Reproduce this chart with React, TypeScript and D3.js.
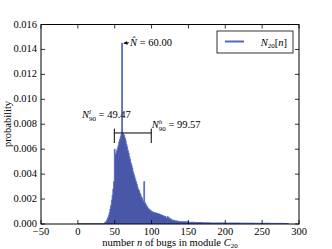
import React from "react";
import * as d3 from "d3";

// bug counts n (left edge of each bin) and their probabilities
const binN = [
  0, 36, 37, 38, 39, 40, 41, 42, 43, 44, 45, 46, 47, 48, 49,
  50, 51, 52, 53, 54, 55, 56, 57, 58, 59, 60, 61, 62, 63, 64,
  65, 66, 67, 68, 69, 70, 71, 72, 73, 74, 75, 76, 77, 78, 79,
  80, 81, 82, 83, 84, 85, 86, 87, 88, 89, 90, 91, 92, 93, 94,
  95, 96, 97, 98, 99, 100, 102, 104, 106, 108, 110, 112, 114, 116, 118,
  120, 122, 123, 125, 128, 132, 136, 140, 150, 160, 170, 180, 200, 220, 240,
  260, 280, 286,
];
const binP = [
  0.00003, 0.00008, 0.00012, 0.00018, 0.00026, 0.00038, 0.00052, 0.0007, 0.0009, 0.0012, 0.0015, 0.0019, 0.0023, 0.0028, 0.0034,
  0.006, 0.0056, 0.0057, 0.0059, 0.0061, 0.0063, 0.0066, 0.0068, 0.007, 0.0072, 0.0145, 0.0073, 0.0072, 0.0071, 0.0069,
  0.0067, 0.0064, 0.0062, 0.0059, 0.0057, 0.0054, 0.0052, 0.0049, 0.0047, 0.0045, 0.0042, 0.004, 0.0038, 0.0036, 0.0034,
  0.0032, 0.003, 0.0028, 0.0027, 0.0025, 0.0024, 0.0022, 0.0021, 0.0019, 0.0018, 0.0034, 0.0017, 0.0016, 0.0015, 0.0014,
  0.0013, 0.0012, 0.0012, 0.0011, 0.0011, 0.001, 0.00095, 0.0009, 0.00088, 0.00085, 0.0008, 0.00075, 0.0007, 0.00065, 0.0006,
  0.0005, 0.0006, 0.0005, 0.0004, 0.0003, 0.00025, 0.0002, 0.00018, 0.00014, 0.00012, 0.0001, 0.00009, 0.00008, 0.00007, 0.00006,
  0.00005, 0.00004, 0,
];

const xTicks = [-50, 0, 50, 100, 150, 200, 250, 300];
const yTicks = [0, 0.002, 0.004, 0.006, 0.008, 0.01, 0.012, 0.014, 0.016];

const nHat = 60.0;
const pHat = 0.0145;
const nLow = 49.47;
const nHigh = 99.57;
const bracketP = [0.0065, 0.0073, 0.00765];

const FONT = '"Liberation Serif", "Times New Roman", "DejaVu Serif", serif';
const FILL = "#4957a9";
const LINE = "#5566c4";

export default function App() {
  const x = d3.scaleLinear().domain([-50, 300]).range([41, 299]);
  const y = d3.scaleLinear().domain([0, 0.016]).range([224, 24.5]);

  const pts: [number, number][] = binN.map((n, i) => [n < 36 ? n : n - 0.5, binP[i]]);

  const area = d3
    .area<[number, number]>()
    .x((d) => x(d[0]))
    .y0(y(0))
    .y1((d) => y(d[1]))
    .curve(d3.curveStepAfter);
  const line = d3
    .line<[number, number]>()
    .x((d) => x(d[0]))
    .y((d) => y(d[1]))
    .curve(d3.curveStepAfter);

  const [x0, x1] = x.range();
  const [yb, yt] = y.range();
  const fmtY = d3.format(".3f");
  const fmtX = (v: number) => (v < 0 ? "\u2212" + Math.abs(v) : String(v));

  return (
    <svg
      width={332}
      height={249}
      style={{ position: "absolute", left: 0, top: 0, background: "#fff", fontFamily: FONT }}
    >
      <rect x={0} y={0} width={332} height={249} fill="#fff" />

      {/* distribution */}
      <path d={area(pts) ?? ""} fill={FILL} />
      <path d={line(pts) ?? ""} fill="none" stroke={LINE} strokeWidth={0.9} />

      {/* N90 bracket */}
      <g stroke="#000" strokeWidth={1} fill="none">
        <line x1={x(nLow)} x2={x(nHigh)} y1={y(bracketP[1])} y2={y(bracketP[1])} />
        <line x1={x(nLow)} x2={x(nLow)} y1={y(bracketP[0])} y2={y(bracketP[2])} />
        <line x1={x(nHigh)} x2={x(nHigh)} y1={y(bracketP[0])} y2={y(bracketP[2])} />
      </g>
      <text x={82} y={118} fontSize={10.5}>
        <tspan fontStyle="italic">N</tspan>
        <tspan fontSize={7} fontStyle="italic" dy={-4.5}>l</tspan>
        <tspan fontSize={7} dx={-2} dy={7.5}>90</tspan>
        <tspan dy={-3}> = 49.47</tspan>
      </text>
      <text x={x(nHigh) + 0.5} y={128} fontSize={10.5}>
        <tspan fontStyle="italic">N</tspan>
        <tspan fontSize={7} fontStyle="italic" dy={-4.5}>h</tspan>
        <tspan fontSize={7} dx={-3.5} dy={7.5}>90</tspan>
        <tspan dy={-3}> = 99.57</tspan>
      </text>

      {/* peak annotation */}
      <defs>
        <marker id="ah" viewBox="0 0 6 6" refX={6} refY={3} markerWidth={5} markerHeight={5} orient="auto">
          <path d="M0,0 L6,3 L0,6 Z" fill="#000" />
        </marker>
      </defs>
      <line
        x1={x(nHat) + 7}
        y1={y(pHat) - 0.5}
        x2={x(nHat) + 1.5}
        y2={y(pHat)}
        stroke="#000"
        strokeWidth={0.8}
        markerEnd="url(#ah)"
      />
      <text x={x(nHat) + 8} y={y(pHat) + 3} fontSize={10.5}>
        <tspan fontStyle="italic">{"N\u0302"}</tspan>
        <tspan> = 60.00</tspan>
      </text>

      {/* frame */}
      <rect x={x0} y={yt} width={x1 - x0} height={yb - yt} fill="none" stroke="#000" strokeWidth={1} />

      {/* ticks */}
      {xTicks.map((t) => (
        <g key={"x" + t}>
          <line x1={x(t)} x2={x(t)} y1={yb} y2={yb - 4} stroke="#000" strokeWidth={0.8} />
          <line x1={x(t)} x2={x(t)} y1={yt} y2={yt + 4} stroke="#000" strokeWidth={0.8} />
          <text x={x(t)} y={yb + 10.5} fontSize={10.5} textAnchor="middle">
            {fmtX(t)}
          </text>
        </g>
      ))}
      {yTicks.map((t) => (
        <g key={"y" + t}>
          <line x1={x0} x2={x0 + 4} y1={y(t)} y2={y(t)} stroke="#000" strokeWidth={0.8} />
          <line x1={x1} x2={x1 - 4} y1={y(t)} y2={y(t)} stroke="#000" strokeWidth={0.8} />
          <text x={x0 - 4} y={y(t) + 3} fontSize={10.5} textAnchor="end">
            {fmtY(t)}
          </text>
        </g>
      ))}

      {/* axis labels */}
      <text x={170} y={245.5} fontSize={10.5} textAnchor="middle">
        number <tspan fontStyle="italic">n</tspan> of bugs in module{" "}
        <tspan fontStyle="italic">C</tspan>
        <tspan fontSize={7} dy={2}>20</tspan>
      </text>
      <text transform="translate(11,124) rotate(-90)" fontSize={10.5} textAnchor="middle">
        probability
      </text>

      {/* legend */}
      <rect x={217} y={31} width={76} height={22} fill="#fff" stroke="#000" strokeWidth={0.8} />
      <line x1={225} x2={244} y1={41.5} y2={41.5} stroke={LINE} strokeWidth={2} />
      <text x={287} y={45.5} fontSize={10.5} textAnchor="end">
        <tspan fontStyle="italic">N</tspan>
        <tspan fontSize={7} dy={2.5}>20</tspan>
        <tspan dy={-2.5}>[</tspan>
        <tspan fontStyle="italic">n</tspan>
        <tspan>]</tspan>
      </text>
    </svg>
  );
}
